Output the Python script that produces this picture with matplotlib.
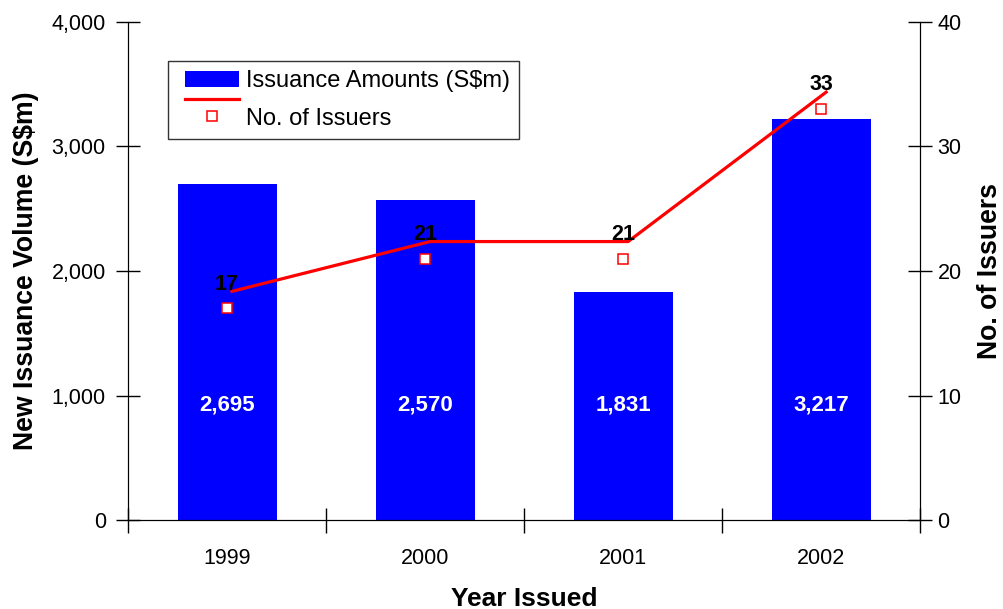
import matplotlib
matplotlib.use("Agg")
import numpy as np
import matplotlib.pyplot as plt
import matplotlib.transforms as mtransforms
from matplotlib.lines import Line2D
from matplotlib.patches import Patch
from matplotlib.legend_handler import HandlerLine2D, HandlerPatch, HandlerTuple

plt.rcParams['font.family'] = ['Liberation Sans', 'DejaVu Sans']

years = ['1999', '2000', '2001', '2002']
issuance = [2695, 2570, 1831, 3217]
issuers = [17, 21, 21, 33]
bar_labels = ['2,695', '2,570', '1,831', '3,217']

# legend handles sit a bit to the right of the frame edge (in points)
LEG_DX = 8 * 72 / 100


class ShiftedLineHandler(HandlerLine2D):
    """Legend line/marker shifted right, optionally raised half a row."""

    def __init__(self, dy=0.0, **kw):
        super().__init__(**kw)
        self.dy = dy

    def create_artists(self, legend, orig_handle, xdescent, ydescent,
                       width, height, fontsize, trans):
        artists = super().create_artists(legend, orig_handle, xdescent, ydescent,
                                         width, height, fontsize, trans)
        for a in artists:
            a.set_xdata(np.asarray(a.get_xdata()) + LEG_DX)
            a.set_ydata(np.asarray(a.get_ydata()) + self.dy)
        return artists


class ShiftedPatchHandler(HandlerPatch):
    def create_artists(self, legend, orig_handle, xdescent, ydescent,
                       width, height, fontsize, trans):
        artists = super().create_artists(legend, orig_handle, xdescent, ydescent,
                                         width, height, fontsize, trans)
        for p in artists:
            p.set_x(p.get_x() + LEG_DX)
        return artists


fig = plt.figure(figsize=(10.04, 6.09), dpi=100)
ax = fig.add_axes([0.1275, 0.1461, 0.789, 0.8178])
ax2 = ax.twinx()

x = list(range(len(years)))

# bars (left axis)
ax.bar(x, issuance, width=0.5, color='#0000ff', zorder=2)
for xi, lab in zip(x, bar_labels):
    ax.text(xi, 920, lab, color='white', fontsize=16, fontweight='bold',
            ha='center', va='center', zorder=3)

ax.set_xlim(-0.5, len(years) - 0.5)
ax.set_ylim(0, 4000)
ax.set_yticks([0, 1000, 2000, 3000, 4000])
ax.set_yticklabels(['0', '1,000', '2,000', '3,000', '4,000'])
ax.set_xticks([i - 0.5 for i in range(len(years) + 1)])
ax.set_xticklabels([])
ax.set_xticks(x, minor=True)
ax.set_xticklabels(years, minor=True)
ax.tick_params(axis='x', which='major', direction='inout', length=18, width=1)
ax.tick_params(axis='x', which='minor', length=0, pad=20, labelsize=15.5)
ax.tick_params(axis='y', direction='inout', length=17, width=1, labelsize=15.5, pad=7.5)

ax.spines['top'].set_visible(False)
ax2.spines['top'].set_visible(False)

ax.set_xlabel('Year Issued', fontsize=19, fontweight='bold', labelpad=13)
ax.set_ylabel('New Issuance Volume (S$m)', fontsize=19.2, fontweight='bold', labelpad=9)

# issuers (right axis)
ax2.set_ylim(0, 40)
ax2.set_yticks([0, 10, 20, 30, 40])
ax2.tick_params(axis='y', direction='inout', length=17, width=1, labelsize=15.5, pad=4)
ax2.set_ylabel('No. of Issuers', fontsize=19.2, fontweight='bold', labelpad=11)

line_trans = mtransforms.offset_copy(ax2.transData, fig=fig, x=5, y=17, units='dots')
ax2.plot(x, issuers, color='#ff0000', lw=2.3, transform=line_trans, zorder=4)
ax2.plot(x, issuers, ls='none', marker='s', ms=7.5, mfc='white', mec='#ff0000',
         mew=1.1, zorder=5)
for xi, v in zip(x, issuers):
    ax2.annotate(str(v), (xi, v), xytext=(0, 17.5), textcoords='offset points',
                 ha='center', va='center', fontsize=15.5, fontweight='bold', zorder=6)

bar_handle = Patch(facecolor='#0000ff', edgecolor='none')
line_handle = Line2D([], [], color='#ff0000', lw=2.3)
marker_handle = Line2D([], [], ls='none', marker='s', ms=7.5, mfc='white',
                       mec='#ff0000', mew=1.1)
leg = ax2.legend([bar_handle, (line_handle, marker_handle)],
                 ['Issuance Amounts (S$m)', 'No. of Issuers'],
                 handler_map={bar_handle: ShiftedPatchHandler(),
                              line_handle: ShiftedLineHandler(dy=17.0 * 72 / 100),
                              marker_handle: ShiftedLineHandler(),
                              tuple: HandlerTuple(ndivide=1)},
                 loc='upper left', bbox_to_anchor=(0.0505, 0.9217),
                 fontsize=17, frameon=True, fancybox=False, edgecolor='black',
                 labelspacing=0.64, handlelength=2.25, handleheight=0.7,
                 handletextpad=0.64, borderpad=0.4, borderaxespad=0)
leg.get_frame().set_linewidth(1)

fig.savefig('out.png', dpi=100)
